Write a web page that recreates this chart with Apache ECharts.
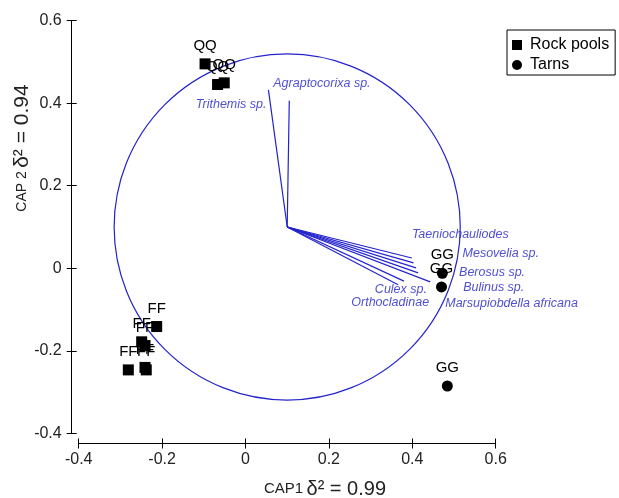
<!DOCTYPE html>
<html>
<head>
<meta charset="utf-8">
<script src="https://cdn.jsdelivr.net/npm/echarts@6/dist/echarts.min.js"></script>
<style>
html, body { margin: 0; padding: 0; background: #fff; }
#chart { width: 619px; height: 498px; }
</style>
</head>
<body>
<div id="chart"></div>
<script>
// sample scores on CAP1 / CAP2
const rockPoolPts = [[-0.097, 0.495], [-0.067, 0.445], [-0.051, 0.449],
  [-0.213, -0.141], [-0.249, -0.178], [-0.241, -0.187], [-0.281, -0.246], [-0.241, -0.240], [-0.238, -0.246]]
const rockPoolSites = ['QQ', 'QQ', 'QQ', 'FF', 'FF', 'FF', 'FF', 'FF', 'FF']
const tarnPts = [[0.472, -0.012], [0.470, -0.045], [0.484, -0.285]]
const tarnSites = ['GG', 'GG', 'GG']

// species correlation vectors (drawn from the circle centre)
const speciesNames = ['Trithemis sp.', 'Agraptocorixa sp.', 'Taeniochauliodes', 'Mesovelia sp.', 'Berosus sp.',
  'Bulinus sp.', 'Marsupiobdella africana', 'Culex sp.', 'Orthocladinae']
const speciesX = [0.055, 0.105, 0.399, 0.403, 0.409, 0.414, 0.443, 0.380, 0.366]
const speciesY = [0.432, 0.406, 0.025, 0.013, 0.001, -0.011, -0.033, -0.031, -0.040]
const vectorOrigin = [0.1, 0.1]
const circleRadius = 0.415

const axisTicks = [-0.4, -0.2, 0, 0.2, 0.4, 0.6]

const blue = '#2323cc'
const font = 'Arial, "Liberation Sans", sans-serif'

// where each species name sits relative to the vector tip
const speciesLabel = [
  { align: 'right', offset: [-2, 15] },
  { align: 'left', offset: [-16, -17] },
  { align: 'left', offset: [0, -23] },
  { align: 'left', offset: [49, -9] },
  { align: 'left', offset: [43, 5] },
  { align: 'left', offset: [45, 15] },
  { align: 'left', offset: [15, 22] },
  { align: 'right', offset: [23, 8] },
  { align: 'right', offset: [31, 18] }
]

const chart = echarts.init(document.getElementById('chart'))

const baseAxis = {
  type: 'value',
  min: axisTicks[0],
  max: axisTicks[axisTicks.length - 1],
  interval: 0.2,
  splitLine: { show: false }
}

const option = {
  animation: false,
  backgroundColor: '#fff',
  grid: { left: 78.7, right: 123.3, top: 20.5, bottom: 64.5 },
  legend: {
    orient: 'vertical',
    left: 507,
    top: 30,
    padding: [6, 6, 1, 5],
    borderColor: '#000',
    borderWidth: 1,
    itemWidth: 10,
    itemHeight: 10,
    itemGap: 2,
    itemStyle: { opacity: 1 },
    textStyle: { fontFamily: font, fontSize: 16, color: '#000', lineHeight: 18, padding: [0, 0, 0, 3] },
    data: [{ name: 'Rock pools', icon: 'rect' }, { name: 'Tarns', icon: 'circle' }]
  },
  xAxis: [
    Object.assign({}, baseAxis, {
      position: 'bottom',
      offset: 10,
      axisLine: { onZero: false, lineStyle: { color: '#000', width: 1 } },
      axisTick: { length: 5, lineStyle: { color: '#000' } },
      axisLabel: { color: '#222', fontFamily: font, fontSize: 16, margin: 8 }
    }),
    Object.assign({}, baseAxis, {
      position: 'bottom',
      offset: 10,
      axisLine: { show: false, onZero: false },
      axisTick: { inside: true, length: 5, lineStyle: { color: '#000' } },
      axisLabel: { show: false }
    })
  ],
  yAxis: [
    Object.assign({}, baseAxis, {
      position: 'left',
      offset: 7,
      axisLine: { show: true, onZero: false, lineStyle: { color: '#000', width: 1 } },
      axisTick: { show: true, length: 5, lineStyle: { color: '#000' } },
      axisLabel: { color: '#222', fontFamily: font, fontSize: 16, margin: 10 }
    }),
    Object.assign({}, baseAxis, {
      position: 'left',
      offset: 7,
      axisLine: { show: false, onZero: false },
      axisTick: { show: true, inside: true, length: 5, lineStyle: { color: '#000' } },
      axisLabel: { show: false }
    })
  ],
  graphic: [
    {
      type: 'text',
      x: 325,
      y: 489,
      style: {
        text: '{a|CAP1} {b|δ² = 0.99}',
        align: 'center',
        verticalAlign: 'middle',
        fill: '#222',
        rich: {
          a: { fontFamily: font, fontSize: 15, fill: '#222' },
          b: { fontFamily: font, fontSize: 20, fill: '#222' }
        }
      }
    },
    {
      type: 'text',
      x: 22,
      y: 148,
      rotation: Math.PI / 2,
      style: {
        text: '{a|CAP 2} {b|δ² = 0.94}',
        align: 'center',
        verticalAlign: 'middle',
        fill: '#222',
        rich: {
          a: { fontFamily: font, fontSize: 14, fill: '#222' },
          b: { fontFamily: font, fontSize: 21, fill: '#222' }
        }
      }
    }
  ],
  series: [
    {
      name: 'circle',
      type: 'custom',
      silent: true,
      renderItem: (params, api) => {
        const c = api.coord([api.value(0), api.value(1)])
        const r = api.size([api.value(2), 0])[0]
        return {
          type: 'circle',
          shape: { cx: c[0], cy: c[1], r: r },
          style: { fill: 'none', stroke: blue, lineWidth: 1.2 }
        }
      },
      data: [[vectorOrigin[0], vectorOrigin[1], circleRadius]],
      z: 1
    },
    {
      name: 'vectors',
      type: 'lines',
      coordinateSystem: 'cartesian2d',
      silent: true,
      lineStyle: { color: blue, width: 1.2, opacity: 1 },
      data: speciesX.map((x, i) => ({ coords: [vectorOrigin, [x, speciesY[i]]] })),
      z: 2
    },
    {
      name: 'species',
      type: 'scatter',
      symbolSize: 1,
      itemStyle: { color: 'transparent' },
      silent: true,
      label: {
        show: true,
        position: 'inside',
        verticalAlign: 'middle',
        color: '#2222c8',
        fontFamily: font,
        fontStyle: 'italic',
        fontSize: 12.5,
        formatter: p => p.name
      },
      data: speciesNames.map((n, i) => ({
        name: n,
        value: [speciesX[i], speciesY[i]],
        label: speciesLabel[i]
      })),
      z: 3
    },
    {
      name: 'Rock pools',
      type: 'scatter',
      symbol: 'rect',
      symbolSize: 11,
      itemStyle: { color: '#000', opacity: 1 },
      label: {
        show: true,
        position: 'top',
        distance: 5,
        color: '#000',
        fontFamily: font,
        fontSize: 15,
        formatter: p => rockPoolSites[p.dataIndex]
      },
      data: rockPoolPts,
      z: 4
    },
    {
      name: 'Tarns',
      type: 'scatter',
      symbol: 'circle',
      symbolSize: 11,
      itemStyle: { color: '#000', opacity: 1 },
      label: {
        show: true,
        position: 'top',
        distance: 5,
        color: '#000',
        fontFamily: font,
        fontSize: 15,
        formatter: p => tarnSites[p.dataIndex]
      },
      data: tarnPts,
      z: 4
    }
  ]
}

chart.setOption(option)
</script>
</body>
</html>
